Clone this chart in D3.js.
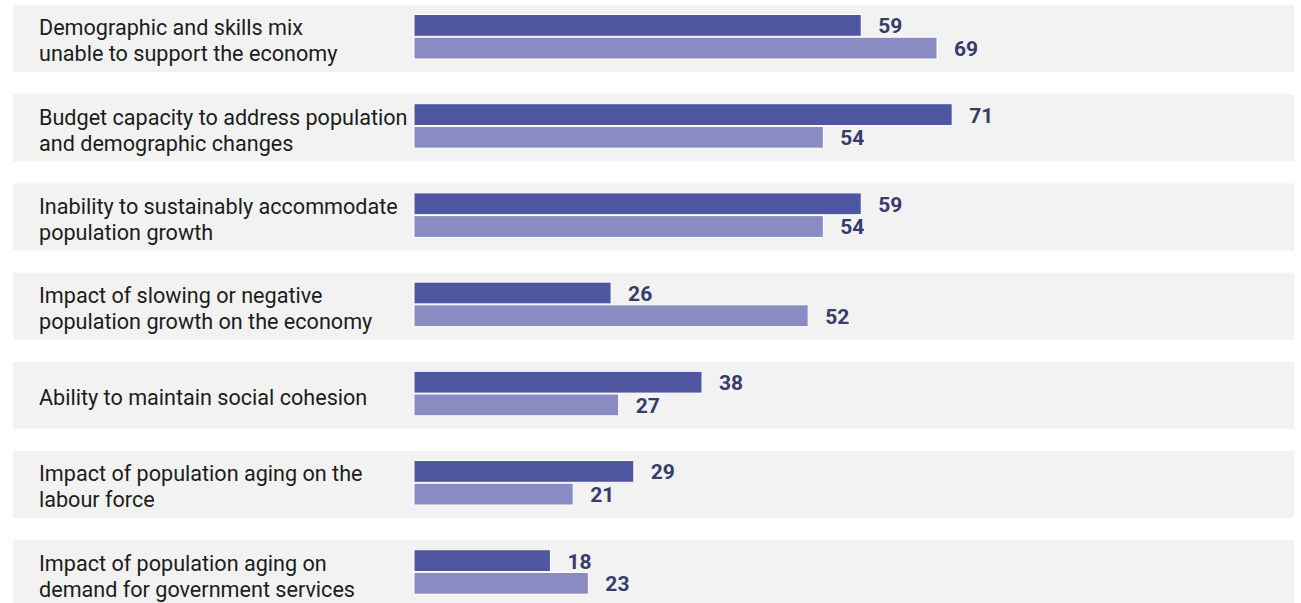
<!DOCTYPE html>
<html>
<head>
<meta charset="utf-8">
<script src="https://cdn.jsdelivr.net/npm/d3@7"></script>
<style>
  html, body { margin: 0; padding: 0; background: #ffffff; }
  svg { display: block; }
</style>
</head>
<body>
<svg id="chart" width="1301" height="603"></svg>
<script>
// Risk categories (line breaks mark where each label wraps)
const categories = [
  "Demographic and skills mix\nunable to support the economy",
  "Budget capacity to address population\nand demographic changes",
  "Inability to sustainably accommodate\npopulation growth",
  "Impact of slowing or negative\npopulation growth on the economy",
  "Ability to maintain social cohesion",
  "Impact of population aging on the\nlabour force",
  "Impact of population aging on\ndemand for government services"
];
const seriesKeys = ["first", "second"];
const firstValues = [59, 71, 59, 26, 38, 29, 18];
const secondValues = [69, 54, 54, 52, 27, 21, 23];

const colors = { first: "#4e56a0", second: "#8b8bc4" };

const rows = categories.map((c, i) => ({
  category: c,
  values: [
    { key: "first", value: firstValues[i] },
    { key: "second", value: secondValues[i] }
  ]
}));

const svg = d3.select("#chart");

const y = d3.scaleBand()
  .domain(categories)
  .range([5, 607.2])
  .paddingInner(0.249)
  .paddingOuter(0);

const x = d3.scaleLinear()
  .domain([0, 100])
  .range([414, 1172]);

const ySub = d3.scaleBand()
  .domain(seriesKeys)
  .range([9.5, 54])
  .paddingInner(0.04);

const row = svg.selectAll("g.row")
  .data(rows)
  .join("g")
  .attr("class", "row")
  .attr("transform", d => `translate(0,${y(d.category)})`);

// grey band behind each row
row.append("rect")
  .attr("x", 13)
  .attr("y", 0)
  .attr("width", 1294 - 13)
  .attr("height", y.bandwidth())
  .attr("fill", "#f2f2f2");

// category labels
row.each(function (d) {
  const g = d3.select(this);
  const lines = d.category.split("\n");
  const lineH = 26;
  const mid = y.bandwidth() / 2;
  const firstBaseline = mid + 8 - (lines.length - 1) * lineH / 2 + (lines.length > 1 ? 2 : 1.5);
  const t = g.append("text")
    .attr("x", 39)
    .attr("font-family", "Roboto, 'Noto Sans', sans-serif")
    .attr("font-size", 21.6)
    .attr("fill", "#1c1c1c");
  lines.forEach((ln, i) => {
    t.append("tspan")
      .attr("x", 39)
      .attr("y", firstBaseline + i * lineH)
      .text(ln);
  });
});

// bars
row.selectAll("rect.bar")
  .data(d => d.values)
  .join("rect")
  .attr("class", "bar")
  .attr("x", x(0))
  .attr("y", d => ySub(d.key))
  .attr("width", d => x(d.value) - x(0))
  .attr("height", ySub.bandwidth())
  .attr("fill", d => colors[d.key])
  .attr("stroke", "#ffffff")
  .attr("stroke-width", 1);

// value labels
row.selectAll("text.value")
  .data(d => d.values)
  .join("text")
  .attr("class", "value")
  .attr("x", d => x(d.value) + 17)
  .attr("y", d => ySub(d.key) + ySub.bandwidth() / 2)
  .attr("dy", "0.38em")
  .attr("font-family", "Roboto, 'Noto Sans', sans-serif")
  .attr("font-weight", 700)
  .attr("font-size", 21)
  .attr("fill", "#383c6a")
  .text(d => d.value);
</script>
</body>
</html>
